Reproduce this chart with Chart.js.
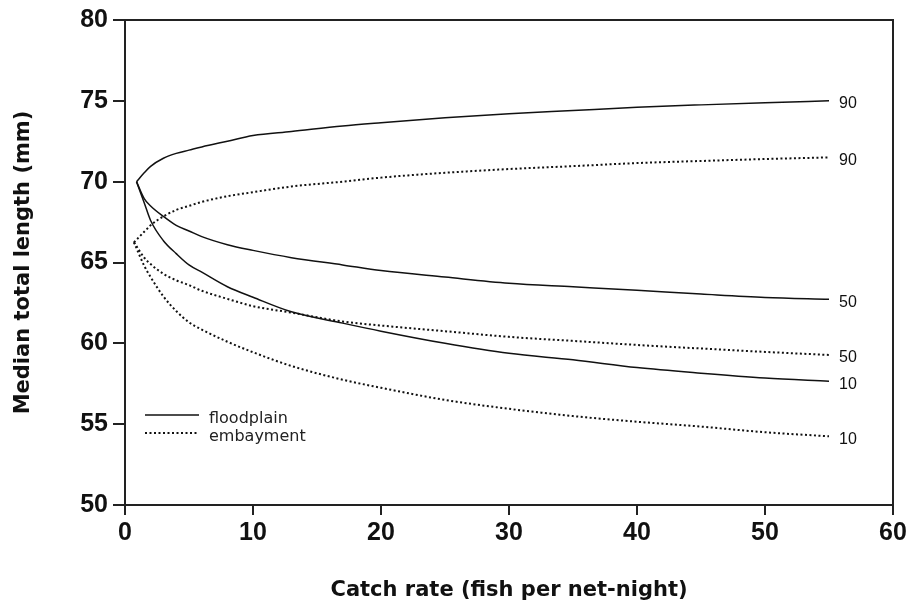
<!DOCTYPE html>
<html>
<head>
<meta charset="utf-8">
<script src="https://cdn.jsdelivr.net/npm/chart.js@4.4.1/dist/chart.umd.min.js"></script>
<style>
  body { margin: 0; background: #fff; }
</style>
</head>
<body>
<canvas id="lengthChart" width="911" height="611"></canvas>
<script>
const floodplainX = [0.9, 1.5, 2, 3, 4, 5, 6, 8, 10, 13, 17, 20, 25, 30, 35, 40, 45, 50, 55];
const embaymentX  = [0.7, 1.5, 2, 3, 4, 5, 6, 8, 10, 13, 17, 20, 25, 30, 35, 40, 45, 50, 55];

// median total length (mm), 90th / 50th / 10th percentile curves
const floodplain90 = [70.0, 70.55, 70.95, 71.45, 71.75, 71.95, 72.15, 72.5, 72.85, 73.1, 73.45, 73.65, 73.95, 74.2, 74.4, 74.6, 74.75, 74.88, 75.0];
const floodplain50 = [70.0, 68.95, 68.5, 67.85, 67.3, 66.95, 66.6, 66.1, 65.75, 65.3, 64.85, 64.5, 64.1, 63.72, 63.5, 63.28, 63.05, 62.84, 62.73];
const floodplain10 = [70.0, 68.7, 67.6, 66.35, 65.55, 64.85, 64.4, 63.5, 62.85, 61.95, 61.25, 60.75, 60.0, 59.38, 58.98, 58.5, 58.15, 57.85, 57.65];

const embayment90 = [66.25, 66.9, 67.3, 67.85, 68.25, 68.5, 68.75, 69.1, 69.35, 69.7, 70.0, 70.25, 70.55, 70.78, 70.96, 71.15, 71.28, 71.4, 71.5];
const embayment50 = [66.25, 65.3, 64.9, 64.3, 63.9, 63.6, 63.25, 62.75, 62.3, 61.9, 61.35, 61.1, 60.75, 60.4, 60.15, 59.9, 59.68, 59.47, 59.28];
const embayment10 = [66.25, 64.8, 64.1, 62.9, 62.0, 61.3, 60.85, 60.1, 59.45, 58.6, 57.75, 57.25, 56.5, 55.95, 55.5, 55.15, 54.85, 54.5, 54.25];

const legendNames = ['floodplain', 'embayment'];

const toPoints = (xs, ys) => xs.map((x, i) => ({ x: x, y: ys[i] }));

const solid = { borderColor: '#111', borderWidth: 1.5, borderDash: [] };
const dotted = { borderColor: '#111', borderWidth: 2, borderDash: [2, 2.5] };

const datasets = [
    { label: 'floodplain 90', endLabel: '90', data: toPoints(floodplainX, floodplain90), ...solid },
    { label: 'floodplain 50', endLabel: '50', data: toPoints(floodplainX, floodplain50), ...solid },
    { label: 'floodplain 10', endLabel: '10', data: toPoints(floodplainX, floodplain10), ...solid },
    { label: 'embayment 90', endLabel: '90', data: toPoints(embaymentX, embayment90), ...dotted },
    { label: 'embayment 50', endLabel: '50', data: toPoints(embaymentX, embayment50), ...dotted },
    { label: 'embayment 10', endLabel: '10', data: toPoints(embaymentX, embayment10), ...dotted }
];

// end-of-curve labels, the closed frame and the little legend box
const extras = {
    id: 'extras',
    afterDatasetsDraw(chart) {
        const ctx = chart.ctx;
        const a = chart.chartArea;
        ctx.save();

        ctx.font = '16px "Liberation Sans", Arial, sans-serif';
        ctx.fillStyle = '#111';
        ctx.textBaseline = 'middle';
        ctx.textAlign = 'left';
        chart.data.datasets.forEach((ds, i) => {
            const pts = chart.getDatasetMeta(i).data;
            const last = pts[pts.length - 1];
            ctx.fillText(ds.endLabel, last.x + 10, last.y + 3);
        });

        // top and right edges of the box
        ctx.strokeStyle = '#222';
        ctx.lineWidth = 2;
        ctx.beginPath();
        ctx.moveTo(a.left, a.top);
        ctx.lineTo(a.right, a.top);
        ctx.lineTo(a.right, a.bottom);
        ctx.stroke();

        // legend
        const lx = a.left + 20;
        const rows = [a.bottom - 90, a.bottom - 72];
        [solid, dotted].forEach((style, i) => {
            ctx.strokeStyle = style.borderColor;
            ctx.lineWidth = style.borderWidth;
            ctx.setLineDash(style.borderDash);
            ctx.beginPath();
            ctx.moveTo(lx, rows[i]);
            ctx.lineTo(lx + 54, rows[i]);
            ctx.stroke();
        });
        ctx.setLineDash([]);
        ctx.font = '16px "DejaVu Sans", sans-serif';
        ctx.fillStyle = '#222';
        legendNames.forEach((name, i) => {
            ctx.fillText(name, lx + 64, rows[i] + 4);
        });

        ctx.restore();
    }
};

const tickFont = { family: '"Liberation Sans", Arial, sans-serif', size: 25, weight: 'bold' };
const titleFont = { family: '"DejaVu Sans", sans-serif', size: 21, weight: 'bold' };

new Chart(document.getElementById('lengthChart'), {
    type: 'line',
    data: { datasets: datasets },
    options: {
        responsive: false,
        animation: false,
        layout: { padding: { top: 19, right: 18, left: 0, bottom: 0 } },
        elements: {
            point: { radius: 0 },
            line: { fill: false, cubicInterpolationMode: 'monotone' }
        },
        plugins: {
            legend: { display: false },
            tooltip: { enabled: false }
        },
        scales: {
            x: {
                type: 'linear',
                min: 0,
                max: 60,
                ticks: { stepSize: 10, color: '#111', font: tickFont, padding: 3 },
                grid: { drawOnChartArea: false, color: '#222', lineWidth: 2, tickLength: 10 },
                border: { color: '#222', width: 2 },
                title: {
                    display: true,
                    text: 'Catch rate (fish per net-night)',
                    color: '#111',
                    font: titleFont,
                    padding: { top: 0, bottom: 8 }
                },
                afterFit: scale => { scale.height = 106; }
            },
            y: {
                type: 'linear',
                min: 50,
                max: 80,
                ticks: { stepSize: 5, color: '#111', font: tickFont, padding: 5 },
                grid: { drawOnChartArea: false, color: '#222', lineWidth: 2, tickLength: 12 },
                border: { color: '#222', width: 2 },
                title: {
                    display: true,
                    text: 'Median total length (mm)',
                    color: '#111',
                    font: titleFont,
                    padding: { top: 11, bottom: 0 }
                },
                afterFit: scale => { scale.width = 125; }
            }
        }
    },
    plugins: [extras]
});
</script>
</body>
</html>
